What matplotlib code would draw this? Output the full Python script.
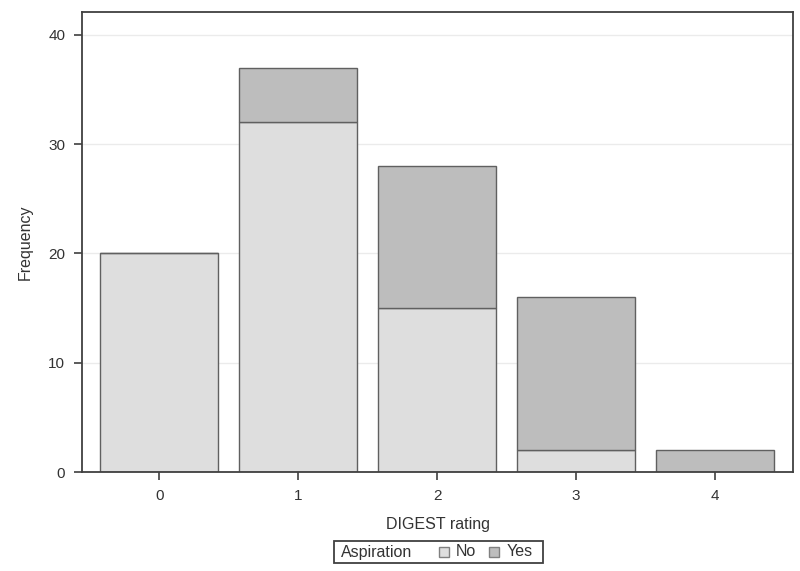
import matplotlib
matplotlib.use("Agg")
import matplotlib.pyplot as plt
from matplotlib.patches import Rectangle

plt.rcParams['font.family'] = ['Liberation Sans', 'DejaVu Sans']

ratings = ["0", "1", "2", "3", "4"]
no_vals = [20, 32, 15, 2, 0]
yes_vals = [0, 5, 13, 14, 2]
yticks = [0, 10, 20, 30, 40]
legend_title = "Aspiration"
legend_labels = ["No", "Yes"]

c_no = "#dedede"
c_yes = "#bdbdbd"
edge = "#606060"
txt = "#333333"

W, H = 800, 571
fig = plt.figure(figsize=(W / 100, H / 100), dpi=100)
ax = fig.add_axes([82 / W, 1 - 472 / H, (793 - 82) / W, (472 - 12) / H])

x = list(range(len(ratings)))
ax.bar(x, no_vals, width=0.85, color=c_no, edgecolor=edge, linewidth=1.0, zorder=2)
ax.bar(x, yes_vals, width=0.85, bottom=no_vals, color=c_yes, edgecolor=edge, linewidth=1.0, zorder=2)

ax.set_xlim(-0.555, 4.56)
ax.set_ylim(0, 42.1)
ax.set_xticks(x)
ax.set_xticklabels(ratings)
ax.set_yticks(yticks)
ax.yaxis.grid(True, color="#ebebeb", linewidth=1.0, zorder=0)
ax.set_axisbelow(True)
for s in ax.spines.values():
    s.set_color("#404040")
    s.set_linewidth(1.3)
ax.tick_params(axis='both', labelsize=11, length=6, width=1.2, color="#404040",
               labelcolor=txt, pad=6)
ax.set_xlabel("DIGEST rating", fontsize=11.5, color=txt, labelpad=10)
ax.set_ylabel("Frequency", fontsize=11.5, color=txt, labelpad=11)

def fx(px):
    return px / W

def fy(py):
    return 1 - py / H

fig.patches.append(Rectangle((fx(334), fy(563)), fx(543) - fx(334), fy(541) - fy(563),
                             transform=fig.transFigure, fill=False, edgecolor="#404040",
                             linewidth=1.3))
yc = fy(552)
fig.text(fx(341), yc, legend_title, fontsize=11.5, color=txt, va="center", ha="left")
sq_x = [439, 489]
txt_x = [456, 507]
for lab, col, sx, tx in zip(legend_labels, [c_no, c_yes], sq_x, txt_x):
    fig.patches.append(Rectangle((fx(sx), fy(557)), fx(10), 10 / H,
                                 transform=fig.transFigure, facecolor=col,
                                 edgecolor="#808080", linewidth=1.0))
    fig.text(fx(tx), yc, lab, fontsize=11.5, color=txt, va="center", ha="left")

fig.savefig("out.png", dpi=100)
